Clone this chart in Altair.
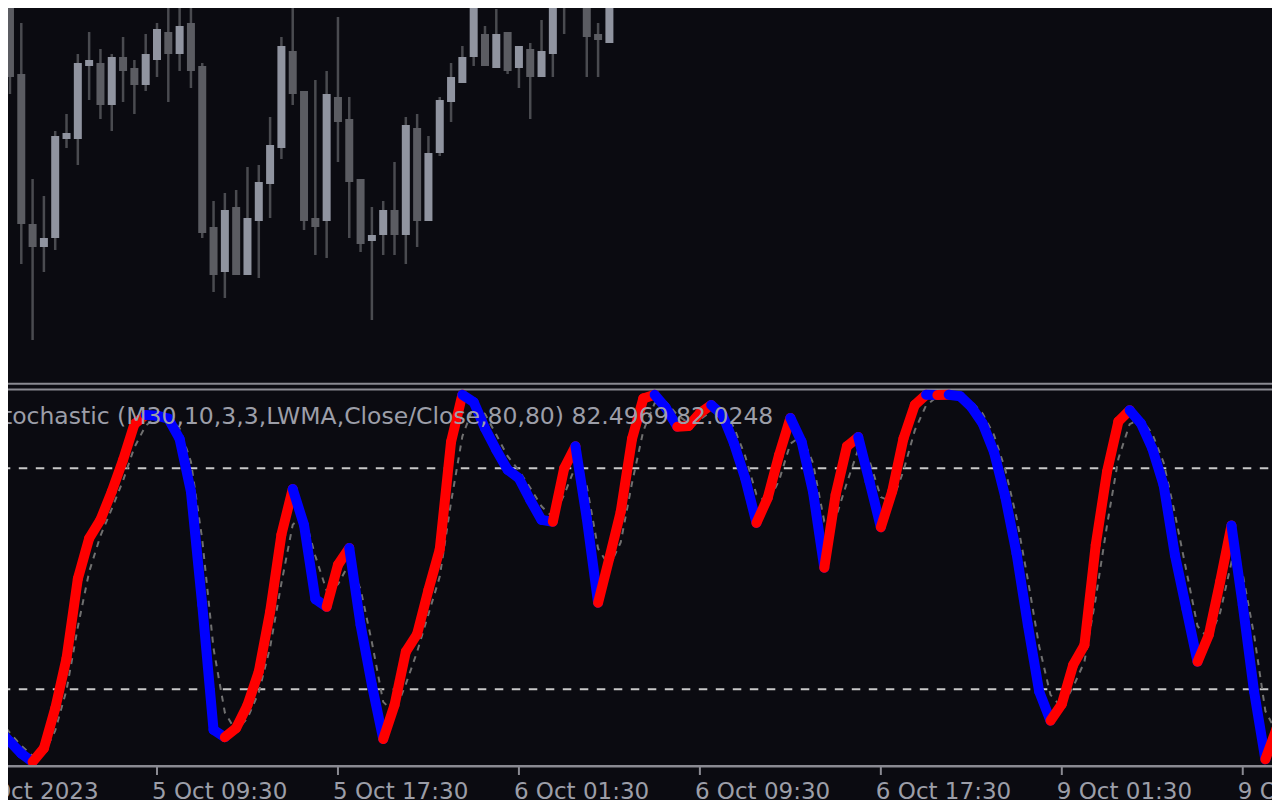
import altair as alt
import pandas as pd

# ---------------- data ----------------
# bar number of each M30 candle, counted from 5 Oct 09:30 (= 0)
candle_bar = list(range(-14, 41))
candle_open = [1.2491, 1.2520, 1.2426, 1.2276, 1.2253, 1.2262, 1.2361, 1.2361, 1.2434, 1.2437,
               1.2395, 1.2443, 1.2432, 1.2415, 1.2440, 1.2468, 1.2446, 1.2477, 1.2434, 1.2273,
               1.2228, 1.2293, 1.2225, 1.2279, 1.2316, 1.2352, 1.2449, 1.2409, 1.2282, 1.2279,
               1.2403, 1.2381, 1.2321, 1.2259, 1.2265, 1.2290, 1.2265, 1.2372, 1.2279, 1.2347,
               1.2398, 1.2417, 1.2443, 1.2466, 1.2432, 1.2468, 1.2432, 1.2451, 1.2423, 1.2446,
               1.2505, 1.2540, 1.2510, 1.2466, 1.2457]
candle_close = [1.2515, 1.2423, 1.2276, 1.2253, 1.2262, 1.2364, 1.2367, 1.2437, 1.2440, 1.2395,
                1.2443, 1.2429, 1.2415, 1.2446, 1.2471, 1.2446, 1.2474, 1.2429, 1.2267, 1.2225,
                1.2290, 1.2225, 1.2282, 1.2318, 1.2355, 1.2454, 1.2406, 1.2279, 1.2273, 1.2406,
                1.2378, 1.2318, 1.2256, 1.2265, 1.2290, 1.2265, 1.2375, 1.2279, 1.2347, 1.2400,
                1.2423, 1.2443, 1.2494, 1.2434, 1.2466, 1.2429, 1.2454, 1.2423, 1.2449, 1.2510,
                1.2540, 1.2520, 1.2463, 1.2460, 1.2510]
candle_high = [1.2525, 1.2530, 1.2477, 1.2321, 1.2304, 1.2369, 1.2386, 1.2446, 1.2468, 1.2451,
               1.2446, 1.2463, 1.2440, 1.2466, 1.2477, 1.2494, 1.2505, 1.2505, 1.2437, 1.2299,
               1.2307, 1.2310, 1.2333, 1.2335, 1.2383, 1.2463, 1.2505, 1.2409, 1.2420, 1.2429,
               1.2483, 1.2403, 1.2321, 1.2293, 1.2299, 1.2338, 1.2383, 1.2386, 1.2364, 1.2403,
               1.2437, 1.2454, 1.2505, 1.2474, 1.2491, 1.2468, 1.2454, 1.2457, 1.2480, 1.2520,
               1.2550, 1.2550, 1.2520, 1.2477, 1.2520]
candle_low = [1.2488, 1.2406, 1.2236, 1.2160, 1.2228, 1.2250, 1.2352, 1.2335, 1.2400, 1.2381,
              1.2369, 1.2398, 1.2386, 1.2409, 1.2423, 1.2398, 1.2429, 1.2412, 1.2262, 1.2208,
              1.2202, 1.2225, 1.2225, 1.2222, 1.2282, 1.2341, 1.2395, 1.2270, 1.2245, 1.2242,
              1.2338, 1.2262, 1.2248, 1.2180, 1.2245, 1.2245, 1.2236, 1.2253, 1.2279, 1.2344,
              1.2378, 1.2417, 1.2434, 1.2434, 1.2432, 1.2426, 1.2412, 1.2381, 1.2423, 1.2423,
              1.2466, 1.2497, 1.2423, 1.2423, 1.2457]

stoch_bar = list(range(-14, 101))
stoch_main = [9, 5.8, 2.6, 0.3, 4, 14.8, 28.4, 50, 61, 66, 73.7, 82.3, 92, 94.5,
              94.3, 93.5, 88, 73.7, 43, 9, 7, 9.5, 15.7, 24.8,
              41, 62, 74.4, 64.6, 44.5, 42.4, 53.8, 58.4, 37.5, 21.2,
              6.5, 15.7, 30.2, 35, 47, 58, 87.2, 100, 98, 90.9,
              85, 79.6, 77.3, 71.4, 66, 65.5, 80, 86, 66.4, 43.5,
              55.7, 68.2, 88, 99, 100, 96.4, 91.3, 91.5, 95, 97.2,
              94.5, 86.9, 77.4, 65.2, 72, 83.6, 93.7, 87.2, 73.7, 53,
              72.8, 86, 88.5, 76.4, 64, 73.7, 88.1, 97.2, 100, 99.9,
              100, 99.6, 96.7, 92.2, 84.5, 72.3, 56.9, 37.5, 19.4, 11.5,
              16, 26.6, 32, 59.2, 79.1, 92.7, 95.8, 92.2, 85.4, 75.5,
              56.5, 42, 27.5, 34.8, 49.2, 64.5, 42.9, 19.4, 1, 9.4,
              20]
stoch_signal = [12, 8.2, 4.7, 2.0, 2.5, 8.8, 19.8, 36.9, 51.9, 61.7, 69.0, 76.7, 85.7, 91.6,
                94.0, 93.9, 90.9, 81.8, 60.7, 31.1, 13.7, 8.6, 12.2, 19.2,
                31.4, 48.8, 64.7, 67.4, 56.2, 46.8, 48.5, 54.2, 47.2, 32.8,
                16.6, 13.6, 21.4, 30.2, 40.4, 50.6, 70.8, 88.7, 96.9, 94.8,
                89.1, 83.3, 79.4, 74.7, 69.7, 66.7, 72.8, 80.6, 75.2, 58.2,
                53.4, 59.9, 76.0, 90.2, 97.7, 98.0, 94.5, 92.3, 93.2, 95.5,
                95.5, 91.2, 83.4, 72.9, 70.6, 76.7, 86.7, 88.8, 81.5, 65.6,
                66.4, 76.1, 85.1, 82.0, 72.2, 70.9, 79.3, 90.3, 97.1, 99.5,
                100, 99.8, 98.2, 94.9, 89.1, 79.7, 66.6, 49.8, 31.7, 18.5,
                15.1, 20.6, 27.5, 44.7, 64.6, 82.6, 92.0, 93.5, 89.4, 81.6,
                67.7, 52.4, 37.2, 33.6, 40.8, 54.5, 51.2, 34.8, 14.1, 8.3,
                13.3]
level_values = [20, 80]
tick_bar = [-16, 0, 16, 32, 48, 64, 80, 96]
tick_label = ["5 Oct 2023", "5 Oct 09:30", "5 Oct 17:30", "6 Oct 01:30",
              "6 Oct 09:30", "6 Oct 17:30", "9 Oct 01:30", "9 Oct 09:30"]
title_text = ["Stochastic (M30,10,3,3,LWMA,Close/Close,80,80) 82.4969 82.0248"]

# ---------------- tables ----------------
candles = pd.DataFrame({"bar": candle_bar, "open": candle_open, "close": candle_close,
                        "high": candle_high, "low": candle_low})
candles["dir"] = ["bull" if c >= o else "bear" for o, c in zip(candle_open, candle_close)]

segs = pd.DataFrame({"bar": stoch_bar[:-1], "bar2": stoch_bar[1:],
                     "v": stoch_main[:-1], "v2": stoch_main[1:]})
segs["dir"] = ["up" if b >= a else "down" for a, b in zip(stoch_main[:-1], stoch_main[1:])]
signal = pd.DataFrame({"bar": stoch_bar, "signal": stoch_signal})
levels = pd.DataFrame({"level": level_values})
ticks = pd.DataFrame({"bar": tick_bar, "label": tick_label})
title = pd.DataFrame({"t": title_text})
one = pd.DataFrame({"k": [0]})

# ---------------- style ----------------
BG = "#0b0b11"
BULL = "#9094a0"
BEAR = "#5b5c62"
WICK = "#4a4b50"
GRID = "#8a8a92"
TEXT = "#9c9ea8"
FONT = "DejaVu Sans"
W, H = 1264, 792

x_scale = alt.Scale(domain=[-17, 100], range=[-43.27, 1280], nice=False, zero=False, padding=0)
price_scale = alt.Scale(domain=[1.2118, 1.25], range=[374, -8], nice=False, zero=False, padding=0)
stoch_scale = alt.Scale(domain=[0, 100], range=[755, 386.7], nice=False, zero=False, padding=0)
color_scale = alt.Scale(domain=["bull", "bear", "up", "down"],
                        range=[BULL, BEAR, "#ff0000", "#0000ff"])

X = alt.X("bar:Q", scale=x_scale, axis=None)

wicks = alt.Chart(candles).mark_rule(color=WICK, strokeWidth=2.5).encode(
    x=X, y=alt.Y("low:Q", scale=price_scale, axis=None), y2="high:Q")
bodies = alt.Chart(candles).mark_bar(size=8).encode(
    x=X, y=alt.Y("open:Q", scale=price_scale, axis=None), y2="close:Q",
    color=alt.Color("dir:N", scale=color_scale, legend=None))

sep1 = alt.Chart(one).mark_rule(color=GRID, strokeWidth=2).encode(
    x=alt.value(0), x2=alt.value(W), y=alt.value(375.7))
sep2 = alt.Chart(one).mark_rule(color=GRID, strokeWidth=2).encode(
    x=alt.value(0), x2=alt.value(W), y=alt.value(381.5))

level_rules = alt.Chart(levels).mark_rule(
    color="#c8c8c8", strokeWidth=2, strokeDash=[8.5, 8.5], strokeDashOffset=13.3).encode(
    y=alt.Y("level:Q", scale=stoch_scale, axis=None))

signal_line = alt.Chart(signal).mark_line(
    color="#707070", strokeWidth=2, strokeDash=[6, 6]).encode(
    x=X, y=alt.Y("signal:Q", scale=stoch_scale, axis=None))

main_line = alt.Chart(segs).mark_rule(strokeWidth=10, strokeCap="round").encode(
    x=X, x2="bar2:Q", y=alt.Y("v:Q", scale=stoch_scale, axis=None), y2="v2:Q",
    color=alt.Color("dir:N", scale=color_scale, legend=None))

axis_line = alt.Chart(one).mark_rule(color=GRID, strokeWidth=2.5).encode(
    x=alt.value(0), x2=alt.value(W), y=alt.value(758.3))
tick_marks = alt.Chart(ticks).mark_rule(color=GRID, strokeWidth=2).encode(
    x=X, y=alt.value(758), y2=alt.value(767))
tick_text = alt.Chart(ticks).mark_text(
    align="left", baseline="alphabetic", dx=-5, font=FONT, fontSize=23, color=TEXT).encode(
    x=X, y=alt.value(791), text="label:N")
title_mark = alt.Chart(title).mark_text(
    align="left", baseline="alphabetic", font=FONT, fontSize=23.5, color=TEXT).encode(
    x=alt.value(-20), y=alt.value(416.3), text="t:N")

chart = alt.layer(
    wicks, bodies, sep1, sep2, level_rules, signal_line, main_line,
    axis_line, tick_marks, tick_text, title_mark
).resolve_scale(y="independent").properties(
    width=W, height=H, autosize=alt.AutoSizeParams(type="none"), padding=0,
    background=BG
).configure_view(stroke=None)

chart.save("out.html", embed_options={"renderer": "svg", "actions": False})
